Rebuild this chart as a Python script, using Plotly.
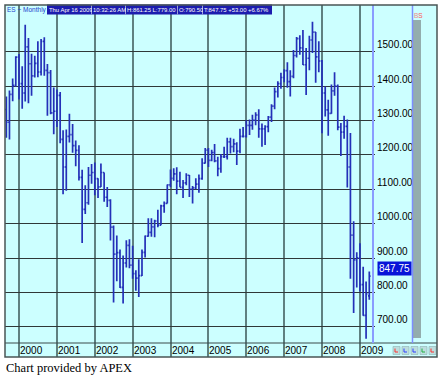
import plotly.graph_objects as go

# ---------------- data (monthly ES bars) ----------------
months = [
    "1999-09", "1999-10", "1999-11", "1999-12",
    "2000-01", "2000-02", "2000-03", "2000-04", "2000-05", "2000-06", "2000-07", "2000-08", "2000-09", "2000-10", "2000-11", "2000-12",
    "2001-01", "2001-02", "2001-03", "2001-04", "2001-05", "2001-06", "2001-07", "2001-08", "2001-09", "2001-10", "2001-11", "2001-12",
    "2002-01", "2002-02", "2002-03", "2002-04", "2002-05", "2002-06", "2002-07", "2002-08", "2002-09", "2002-10", "2002-11", "2002-12",
    "2003-01", "2003-02", "2003-03", "2003-04", "2003-05", "2003-06", "2003-07", "2003-08", "2003-09", "2003-10", "2003-11", "2003-12",
    "2004-01", "2004-02", "2004-03", "2004-04", "2004-05", "2004-06", "2004-07", "2004-08", "2004-09", "2004-10", "2004-11", "2004-12",
    "2005-01", "2005-02", "2005-03", "2005-04", "2005-05", "2005-06", "2005-07", "2005-08", "2005-09", "2005-10", "2005-11", "2005-12",
    "2006-01", "2006-02", "2006-03", "2006-04", "2006-05", "2006-06", "2006-07", "2006-08", "2006-09", "2006-10", "2006-11", "2006-12",
    "2007-01", "2007-02", "2007-03", "2007-04", "2007-05", "2007-06", "2007-07", "2007-08", "2007-09", "2007-10", "2007-11", "2007-12",
    "2008-01", "2008-02", "2008-03", "2008-04", "2008-05", "2008-06", "2008-07", "2008-08", "2008-09", "2008-10", "2008-11", "2008-12",
    "2009-01", "2009-02", "2009-03", "2009-04",
]
open_ = [
    1332, 1295, 1376, 1402,
    1484, 1407, 1380, 1514, 1465, 1430, 1466, 1441, 1530, 1446, 1439, 1322,
    1327, 1373, 1245, 1165, 1254, 1259, 1227, 1213, 1135, 1042, 1061, 1141,
    1149, 1131, 1107, 1149, 1077, 1068, 990, 912, 916, 815, 886, 937,
    880, 855, 842, 849, 917, 964, 975, 991, 1008, 996, 1052, 1059,
    1113, 1132, 1145, 1124, 1106, 1119, 1141, 1101, 1104, 1115, 1131, 1176,
    1214, 1184, 1207, 1183, 1160, 1195, 1195, 1238, 1224, 1232, 1211, 1254,
    1254, 1286, 1286, 1301, 1316, 1276, 1276, 1282, 1310, 1342, 1384, 1407,
    1425, 1445, 1413, 1428, 1489, 1538, 1511, 1462, 1481, 1534, 1557, 1485,
    1473, 1380, 1331, 1321, 1386, 1400, 1281, 1266, 1283, 1165, 967, 895,
    901, 823, 734, 790.5,
]
high = [
    1370, 1387, 1422, 1487,
    1493, 1458, 1578, 1540, 1494, 1488, 1530, 1537, 1542, 1464, 1447, 1396,
    1390, 1383, 1272, 1274, 1320, 1290, 1242, 1228, 1157, 1112, 1165, 1174,
    1178, 1132, 1175, 1149, 1107, 1071, 995, 966, 925, 908, 952, 955,
    936, 865, 897, 925, 966, 1016, 1016, 1012, 1041, 1055, 1065, 1114,
    1158, 1161, 1164, 1151, 1127, 1147, 1142, 1110, 1132, 1143, 1190, 1220,
    1220, 1215, 1232, 1195, 1203, 1224, 1250, 1250, 1247, 1237, 1276, 1281,
    1301, 1303, 1317, 1324, 1333, 1291, 1286, 1313, 1347, 1396, 1414, 1439,
    1449, 1469, 1446, 1505, 1543, 1548, 1563, 1511, 1546, 1587, 1557, 1530,
    1476, 1399, 1360, 1405, 1440, 1405, 1293, 1314, 1303, 1264, 1007, 917,
    943, 875, 832, 861.25,
]
low = [
    1250, 1245, 1356, 1398,
    1361, 1334, 1355, 1350, 1372, 1425, 1426, 1431, 1430, 1314, 1318, 1260,
    1281, 1234, 1086, 1096, 1236, 1206, 1167, 1126, 944, 1028, 1055, 1116,
    1083, 1075, 1107, 1064, 1049, 951, 771, 833, 813, 768, 873, 871,
    840, 805, 787, 848, 902, 962, 962, 961, 990, 996, 1032, 1059,
    1106, 1125, 1086, 1106, 1075, 1112, 1078, 1059, 1100, 1090, 1128, 1175,
    1165, 1182, 1179, 1138, 1148, 1191, 1187, 1204, 1208, 1171, 1205, 1251,
    1251, 1258, 1273, 1286, 1250, 1224, 1229, 1266, 1296, 1333, 1367, 1392,
    1411, 1395, 1370, 1423, 1483, 1491, 1461, 1374, 1446, 1496, 1410, 1440,
    1263, 1312, 1256, 1320, 1372, 1272, 1197, 1247, 1105, 840, 741, 815,
    803, 733, 666, 779.0,
]
close = [
    1295, 1376, 1402, 1484,
    1407, 1380, 1514, 1465, 1430, 1466, 1441, 1530, 1446, 1439, 1322, 1327,
    1373, 1245, 1165, 1254, 1259, 1227, 1213, 1135, 1042, 1061, 1141, 1149,
    1131, 1107, 1149, 1077, 1068, 990, 912, 916, 815, 886, 937, 880,
    855, 842, 849, 917, 964, 975, 991, 1008, 996, 1052, 1059, 1113,
    1132, 1145, 1124, 1106, 1119, 1141, 1101, 1104, 1115, 1131, 1176, 1214,
    1184, 1207, 1183, 1160, 1195, 1195, 1238, 1224, 1232, 1211, 1254, 1254,
    1286, 1286, 1301, 1316, 1276, 1276, 1282, 1310, 1342, 1384, 1407, 1425,
    1445, 1413, 1428, 1489, 1538, 1511, 1462, 1481, 1534, 1557, 1485, 1473,
    1380, 1331, 1321, 1386, 1400, 1281, 1266, 1283, 1165, 967, 895, 901,
    823, 734, 796, 847.75,
]

year_ticks = ["2000", "2001", "2002", "2003", "2004", "2005", "2006", "2007", "2008", "2009"]
price_ticks = [700, 800, 900, 1000, 1100, 1200, 1300, 1400, 1500]
price_labels = ["700.00", "800.00", "900.00", "1000.00", "1100.00", "1200.00", "1300.00", "1400.00", "1500.00"]
last_price = 847.75
header_segments = ["Thu Apr 16 2009", "10:32:26 AM", "H:861.25 L:779.00", "O:790.50", "T:847.75 +53.00 +6.67%"]

# ---------------- figure ----------------
W, H = 444, 377
L, R, T, B = 5, 375, 5, 357  # plot area in pixels


def px(x):
    return (x - L) / (R - L)


def py(y):
    return (B - y) / (B - T)


BAR = "#2430b8"
fig = go.Figure(go.Ohlc(
    x=[m + "-01" for m in months], open=open_, high=high, low=low, close=close,
    increasing=dict(line=dict(color=BAR, width=1.7)),
    decreasing=dict(line=dict(color=BAR, width=1.7)),
    tickwidth=0.45, hoverinfo="skip", showlegend=False,
))

SANS = "Liberation Sans, Arial, sans-serif"
shapes = []
# panel background and strip
shapes.append(dict(type="rect", xref="paper", yref="paper", x0=px(5), x1=px(437), y0=py(357), y1=py(5),
                   fillcolor="#ccffff", line=dict(width=0), layer="below"))
shapes.append(dict(type="line", xref="paper", yref="paper", x0=px(5), x1=px(437), y0=py(343), y1=py(343),
                   line=dict(color="#3a4a4a", width=1)))
# current-time line and right side gauge
shapes.append(dict(type="line", xref="paper", yref="paper", x0=px(373), x1=px(373), y0=py(343), y1=py(5),
                   line=dict(color="#8a9cff", width=2)))
shapes.append(dict(type="rect", xref="paper", yref="paper", x0=px(413), x1=px(421), y0=py(338), y1=py(20),
                   fillcolor="#93adad", line=dict(width=0)))
shapes.append(dict(type="line", xref="paper", yref="paper", x0=px(412.5), x1=px(412.5), y0=py(343), y1=py(5),
                   line=dict(color="#7d8eff", width=1.5)))
# header box
shapes.append(dict(type="rect", xref="paper", yref="paper", x0=px(47), x1=px(272), y0=py(14.5), y1=py(4.5),
                   fillcolor="#1c1cae", line=dict(width=0)))
seg_x = [48, 92, 126, 178, 203]
seg_end = [91, 125, 177, 202, 271]
for sx in seg_x[1:]:
    shapes.append(dict(type="line", xref="paper", yref="paper", x0=px(sx - 0.5), x1=px(sx - 0.5),
                       y0=py(14.5), y1=py(4.5), line=dict(color="#9aa0d8", width=1)))
# small buttons at bottom right
btn_x = [393, 402, 411, 420, 429]
btn_c = ["#ff3030", "#3040ff", "#3040ff", "#20b040", "#ff3030"]
for bx, bc in zip(btn_x, btn_c):
    shapes.append(dict(type="rect", xref="paper", yref="paper", x0=px(bx), x1=px(bx + 7), y0=py(354.5), y1=py(346.5),
                       fillcolor="#bcdede", line=dict(color="#8fb0b0", width=0.6)))
    shapes.append(dict(type="path", xref="paper", yref="paper",
                       path=f"M {px(bx + 2)},{py(348.5)} L {px(bx + 2)},{py(352)} L {px(bx + 5)},{py(352)}",
                       line=dict(color=bc, width=1)))
# frame
shapes.append(dict(type="rect", xref="paper", yref="paper", x0=px(5), x1=px(437), y0=py(357), y1=py(5),
                   line=dict(color="#4a5656", width=1.5), fillcolor="rgba(0,0,0,0)"))

annotations = []
annotations.append(dict(xref="paper", yref="paper", x=px(6), y=py(9.5), xanchor="left", yanchor="middle",
                        text="ES ~ Monthly", showarrow=False, borderpad=0,
                        font=dict(family=SANS, size=6.5, color="#2244cc")))
for sx, se, seg in zip(seg_x, seg_end, header_segments):
    annotations.append(dict(xref="paper", yref="paper", x=px(sx), y=py(9.5), xanchor="left", yanchor="middle",
                            text=seg, showarrow=False, borderpad=0, width=se - sx, align="left",
                            font=dict(family=SANS, size=5.9, color="white")))
annotations.append(dict(xref="paper", yref="paper", x=px(412.5), y=py(15.5), xanchor="left", yanchor="middle",
                        text="<span style='color:#ee8888'>B</span><span style='color:#ff5555'>S</span>",
                        showarrow=False, borderpad=0, font=dict(family=SANS, size=6.5)))
annotations.append(dict(xref="paper", yref="y", x=px(376.5), y=last_price, xanchor="left", yanchor="bottom",
                        text=f"{last_price:.2f}", showarrow=False, bgcolor="#0814d8", borderpad=1,
                        font=dict(family=SANS, size=10, color="white")))
for yr in year_ticks:
    annotations.append(dict(xref="x", yref="paper", x=yr + "-01-01", y=py(350.5), xanchor="left", yanchor="middle",
                            xshift=0, text=yr, showarrow=False, borderpad=0,
                            font=dict(family=SANS, size=10, color="black")))
annotations.append(dict(xref="paper", yref="paper", x=px(4), y=py(359), xanchor="left", yanchor="top",
                        text="Chart provided by APEX", showarrow=False,
                        font=dict(family="Liberation Serif, Times New Roman, serif", size=12.5, color="black")))

fig.update_layout(
    width=W, height=H, autosize=False,
    margin=dict(l=L, r=W - R, t=T, b=H - B),
    paper_bgcolor="white", plot_bgcolor="rgba(0,0,0,0)",
    shapes=shapes, annotations=annotations,
    xaxis=dict(type="date", range=["1999-08-19", "2009-05-26"],
               rangeslider=dict(visible=False),
               tickvals=[y + "-01-01" for y in year_ticks], ticktext=year_ticks,
               showticklabels=False, ticks="",
               showgrid=True, gridcolor="#5f8080", gridwidth=1.5,
               zeroline=False, showline=False),
    yaxis=dict(side="right", range=[612.8, 1635.7],
               tickvals=price_ticks, ticktext=price_labels,
               ticklabelposition="outside top", ticks="", ticklabelstandoff=1,
               showgrid=True, gridcolor="#303838", gridwidth=1.2,
               zeroline=False, showline=False,
               tickfont=dict(family=SANS, size=10, color="black")),
)

fig.write_html("out.html", config={"displayModeBar": False},
               post_script="document.body.style.margin='0';document.body.style.overflow='hidden';")
